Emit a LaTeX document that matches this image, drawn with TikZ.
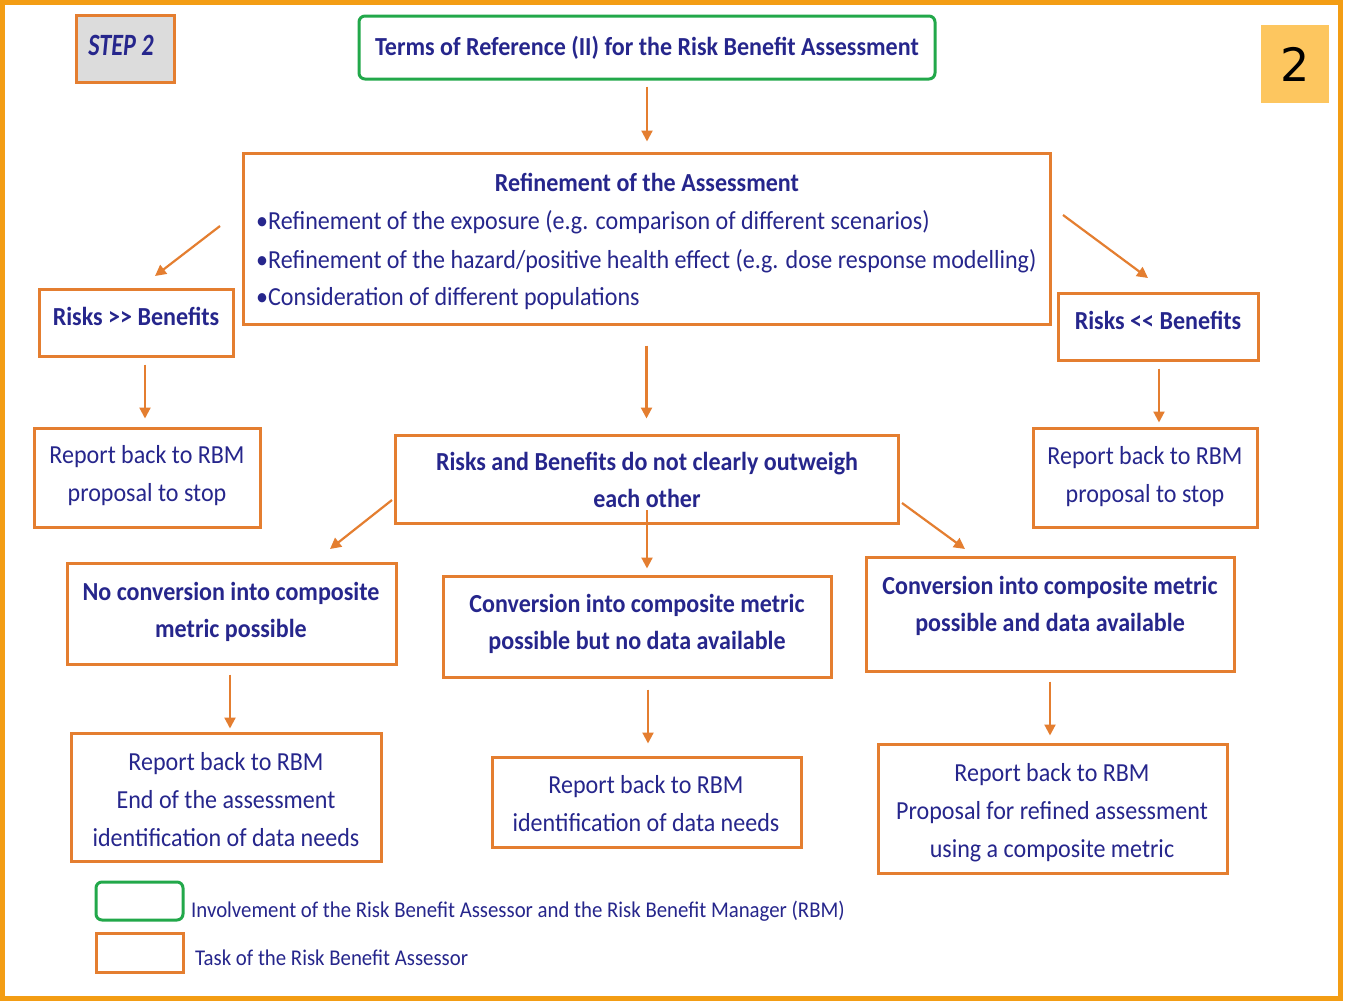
\documentclass[tikz,border=0pt]{standalone}
\usepackage{fontspec}
\setmainfont{Carlito}[FakeStretch=0.925]
\newfontfamily\stepfont{Carlito}[FakeStretch=0.78]
\newfontfamily\digitfont{DejaVu Sans}
\usetikzlibrary{arrows.meta}
\definecolor{navy}{RGB}{38,38,140}
\definecolor{boxorange}{RGB}{228,126,48}
\definecolor{frameorange}{RGB}{243,157,20}
\definecolor{boxgreen}{RGB}{34,168,74}
\definecolor{tabfill}{RGB}{253,198,95}
\definecolor{stepgray}{RGB}{220,220,220}
\tikzset{
  obox/.style={draw=boxorange, line width=3pt, inner sep=0pt, text=navy, align=center},
  gbox/.style={draw=boxgreen, line width=3pt, rounded corners=6pt, inner sep=0pt, text=navy, align=center},
  txt/.style={text=navy, inner sep=0pt, align=center, font=\fontsize{26}{38}\selectfont},
  btxt/.style={txt, font=\fontsize{26}{37}\selectfont\bfseries},
  flow/.style={draw=boxorange, line width=2.2pt, -{Triangle[length=11pt,width=11pt]}},
}
\begin{document}
\begin{tikzpicture}[x=1pt,y=-1pt]
\useasboundingbox (0,0) rectangle (1345,1001);
\fill[white] (0,0) rectangle (1345,1001);
\draw[frameorange, line width=5pt] (2.5,2.5) rectangle (1340,998);

% header
\node[obox, fill=stepgray, minimum width=98pt, minimum height=67pt] (step) at (125,48.5) {};
\node[text=navy, inner sep=0pt, anchor=base, font=\stepfont\fontsize{31}{34}\selectfont\bfseries\itshape] (stept) at (121,55) {STEP 2};
\node[gbox, minimum width=576pt, minimum height=63pt, font=\fontsize{26}{30}\selectfont\bfseries] (terms) at (647,47.5) {Terms of Reference (II) for the Risk Benefit Assessment};
\node[fill=tabfill, minimum width=68pt, minimum height=78pt, inner sep=0pt, font=\digitfont\fontsize{46}{50}\selectfont] (tab) at (1295,64) {2};

% refinement
\node[obox, minimum width=807pt, minimum height=171pt] (refine) at (646.5,238.5) {};
\node[btxt, anchor=base] (reftitle) at (647,191) {Refinement of the Assessment};
\node[txt, anchor=base west] (b1) at (256,229) {•Refinement of the exposure (e.g. comparison of different scenarios)};
\node[txt, anchor=base west] (b2) at (256,268) {•Refinement of the hazard/positive health effect (e.g. dose response modelling)};
\node[txt, anchor=base west] (b3) at (256,305) {•Consideration of different populations};

% side outcomes
\node[obox, minimum width=194pt, minimum height=67pt] (rgtb) at (136,322.5) {};
\node[btxt, anchor=base] (rgtbt) at (136,325) {Risks >{}> Benefits};
\node[obox, minimum width=200pt, minimum height=67pt] (rltb) at (1158,326.5) {};
\node[btxt, anchor=base] (rltbt) at (1158,329) {Risks <{}< Benefits};

\node[obox, minimum width=226pt, minimum height=99pt] (stopl) at (147,477.5) {};
\node[txt, anchor=base] (stoplt) at (147,501) {Report back to RBM\\proposal to stop};
\node[obox, minimum width=224pt, minimum height=99pt] (stopr) at (1145,477.5) {};
\node[txt, anchor=base] (stoprt) at (1145,502) {Report back to RBM\\proposal to stop};

% middle
\node[obox, minimum width=503pt, minimum height=88pt] (mid) at (646.5,479) {};
\node[btxt, anchor=base] (midt) at (647,507) {Risks and Benefits do not clearly outweigh\\each other};

\node[obox, minimum width=329pt, minimum height=101pt] (nconv) at (231.5,613.5) {};
\node[btxt, anchor=base] (nconvt) at (231,637) {No conversion into composite\\metric possible};
\node[obox, minimum width=388pt, minimum height=101pt] (cnod) at (637,626.5) {};
\node[btxt, anchor=base] (cnodt) at (637,649) {Conversion into composite metric\\possible but no data available};
\node[obox, minimum width=368pt, minimum height=114pt] (cdat) at (1050,614) {};
\node[btxt, anchor=base] (cdatt) at (1050,631) {Conversion into composite metric\\possible and data available};

\node[obox, minimum width=310pt, minimum height=128pt] (repl) at (226,797) {};
\node[txt, anchor=base] (replt) at (226,846) {Report back to RBM\\End of the assessment\\identification of data needs};
\node[obox, minimum width=309pt, minimum height=90pt] (repc) at (646.5,802) {};
\node[txt, anchor=base] (repct) at (646,831) {Report back to RBM\\identification of data needs};
\node[obox, minimum width=349pt, minimum height=129pt] (repr) at (1052.5,808.5) {};
\node[txt, anchor=base] (reprt) at (1052,857) {Report back to RBM\\Proposal for refined assessment\\using a composite metric};

% legend
\node[gbox, minimum width=87pt, minimum height=38pt] (leggreen) at (139.5,901) {};
\node[txt, anchor=base west, font=\fontsize{22.5}{26}\selectfont] (legg) at (191,917) {Involvement of the Risk Benefit Assessor and the Risk Benefit Manager (RBM)};
\node[obox, minimum width=87pt, minimum height=39pt] (legorange) at (139.5,952.5) {};
\node[txt, anchor=base west, font=\fontsize{22.5}{26}\selectfont] (lego) at (195,965) {Task of the Risk Benefit Assessor};

% connector free ends
\coordinate (dl1) at (220,226);
\coordinate (dl2) at (155,276);
\coordinate (dr1) at (1063,215);
\coordinate (dr2) at (1148,278);
\coordinate (ml1) at (392,500);
\coordinate (ml2) at (330,549);
\coordinate (mr1) at (902,503);
\coordinate (mr2) at (965,549);
\coordinate (mc) at (647,510);

% connectors
\draw[flow, shorten <=6pt, shorten >=10pt] (terms.south) -- (refine.north -| terms.south);
\draw[flow] (dl1) -- (dl2);
\draw[flow] (dr1) -- (dr2);
\draw[flow, shorten <=20pt, shorten >=15pt] (refine.south) -- (mid.north -| refine.south);
\draw[flow, shorten <=7pt, shorten >=8pt] ([xshift=9pt]rgtb.south) -- ([xshift=9pt]rgtb.south |- stopl.north);
\draw[flow, shorten <=7pt, shorten >=4pt] ([xshift=1pt]rltb.south) -- ([xshift=1pt]rltb.south |- stopr.north);
\draw[flow] (ml1) -- (ml2);
\draw[flow] (mr1) -- (mr2);
\draw[flow, shorten >=6pt] (mc) -- (mc |- cnod.north);
\draw[flow, shorten <=9pt, shorten >=3pt] ([xshift=-1.5pt]nconv.south) -- ([xshift=-1.5pt]nconv.south |- repl.north);
\draw[flow, shorten <=11pt, shorten >=12pt] ([xshift=11pt]cnod.south) -- ([xshift=11pt]cnod.south |- repc.north);
\draw[flow, shorten <=9pt, shorten >=7pt] (cdat.south) -- (cdat.south |- repr.north);
\end{tikzpicture}
\end{document}
